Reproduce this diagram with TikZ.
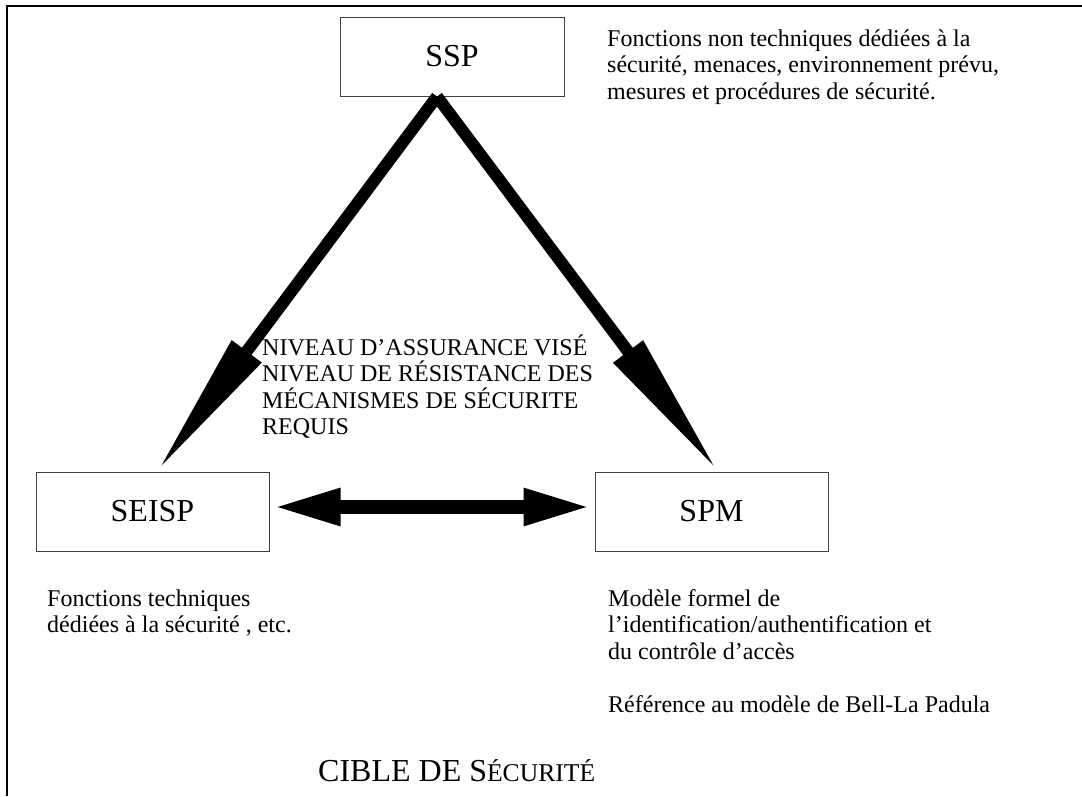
\documentclass[tikz,border=0pt]{standalone}
\usepackage{fontspec}
\setmainfont{Liberation Serif}
\usetikzlibrary{arrows.meta,positioning}

\begin{document}
\begin{tikzpicture}[x=1pt,y=-1pt,
        box/.style={shape=rectangle,draw=black!75,line width=1pt,minimum width=233pt,minimum height=79pt,font=\fontsize{32}{36}\selectfont},
        note/.style={shape=rectangle,align=left,inner sep=0,anchor=base west,font=\fontsize{24}{26.5}\selectfont},
        bigarrow/.style={draw=black,line width=12pt,-{Triangle[length=150pt,width=34pt]}},
        duoarrow/.style={draw=black,line width=14pt,{Triangle[length=68pt,width=34pt]}-{Triangle[length=68pt,width=34pt]}},
        ]
\useasboundingbox (0,0) rectangle (1082,796);
\draw[line width=1.5pt] (1082,6) -- (7,6) -- (7,796);

\node [box, minimum width=224pt] (ssp) at (452,56.5) {SSP};
\node [box] (seisp) at (152.5,511.5) {SEISP};
\node [box] (spm) at (711.5,511.5) {SPM};

% base anchor = last line of each note
\node [note] (sspnote) at (607,99) {Fonctions non techniques dédiées à la\\sécurité, menaces, environnement prévu,\\mesures et procédures de sécurité.};
\node [note] (niveau) at (262,434.5) {NIVEAU D’ASSURANCE VISÉ\\NIVEAU DE RÉSISTANCE DES\\MÉCANISMES DE SÉCURITE\\REQUIS};
\node [note] (seispnote) at (47,632.5) {Fonctions techniques\\dédiées à la sécurité , etc.};
\node [note] (spmnote) at (608,712) {Modèle formel de\\l’identification/authentification et\\du contrôle d’accès\\[26.5pt]Référence au modèle de Bell-La Padula};
\node [note, font=\fontsize{32}{36}\selectfont] (cible) at (318,781) {CIBLE DE S{\fontsize{25.6}{28}\selectfont ÉCURITÉ}};

\draw[bigarrow] ([xshift=-15pt]ssp.south) -- ([xshift=4.5pt]seisp.north);
\draw[bigarrow] ([xshift=-15pt]ssp.south) -- ([xshift=6.5pt]spm.north);
\draw[duoarrow] ([xshift=3pt,yshift=4.5pt]seisp.east) -- ([xshift=-3pt,yshift=4.5pt]spm.west);

\end{tikzpicture}
\end{document}
